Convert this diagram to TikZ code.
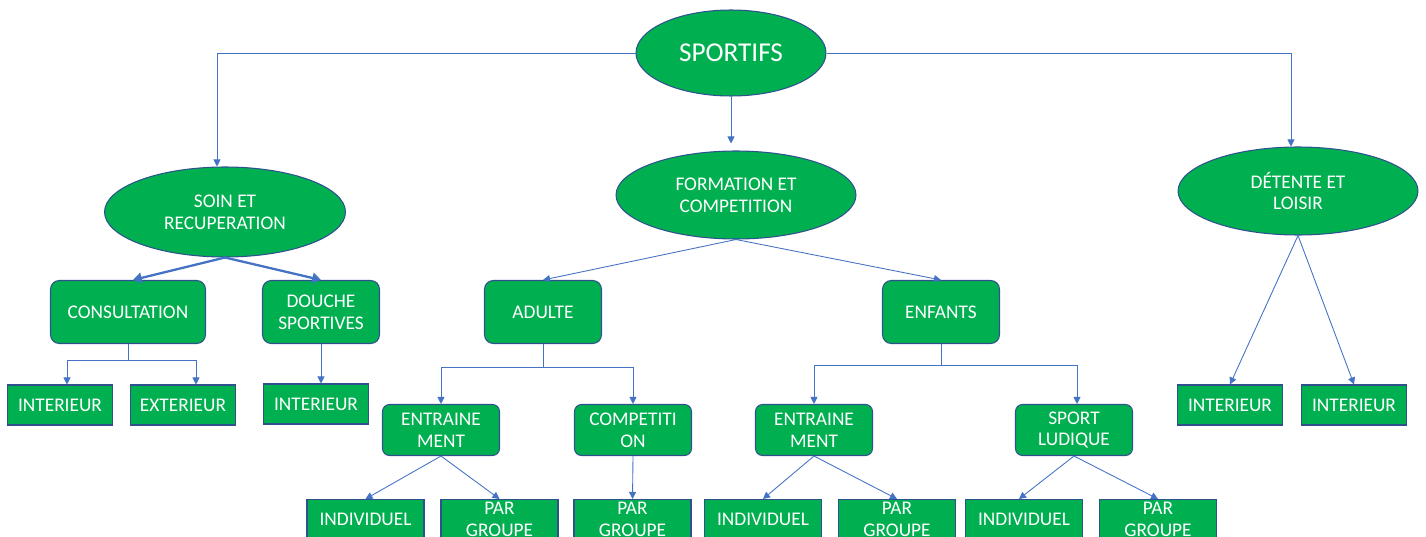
\documentclass[tikz,border=0pt]{standalone}
\usepackage{fontspec}
\setmainfont{Carlito}
\usetikzlibrary{positioning, arrows.meta, shapes.geometric}

\definecolor{boxGreen}{HTML}{00B050}
\definecolor{edgeBlue}{HTML}{2F528F}
\definecolor{lineBlue}{HTML}{4472C4}

\begin{document}
\begin{tikzpicture}[
    x=0.02cm, y=-0.02cm,
    % common look of all boxes
    base/.style={draw=edgeBlue, line width=0.6pt, fill=boxGreen, text=white, align=center, inner sep=2pt, font=\fontsize{11}{12.5}\selectfont},
    oval/.style={base, ellipse, minimum width=4.8cm, minimum height=1.76cm},
    rbox/.style={base, rectangle, rounded corners=5pt, minimum width=2.34cm, minimum height=1.26cm},
    sbox/.style={base, rectangle, rounded corners=4pt, minimum width=2.34cm, minimum height=1.02cm},
    leaf/.style={base, rectangle, minimum width=2.1cm, minimum height=0.8cm},
    leafb/.style={leaf, minimum width=2.34cm, anchor=north, inner ysep=1pt},
    % connectors
    arr/.style={-{Triangle[length=4pt, width=4pt]}, line width=0.5pt, color=lineBlue},
    warr/.style={arr, -{Triangle[length=5pt, width=6pt]}, line width=1.3pt},
]
\useasboundingbox (0,0) rectangle (1426,537);
\clip (0,0) rectangle (1426,537);

% ==================== 1. y levels ====================
\def\yTop{53}
\def\yOne{195}
\def\yTwo{312}
\def\yThree{430}
\def\yLeaf{405}
\def\yBot{499}

% ==================== 2. root and main branches ====================
\node[oval, minimum width=3.8cm, minimum height=1.72cm, font=\fontsize{15.5}{18}\selectfont] (sportifs) at (731,\yTop) {SPORTIFS};
\node[oval, minimum width=4.82cm, minimum height=1.8cm] (soin) at (225,212) {SOIN ET\\RECUPERATION};
\node[oval] (formation) at (736,\yOne) {FORMATION ET\\COMPETITION};
\node[oval] (detente)   at (1298,191)  {DÉTENTE ET\\LOISIR};

% ==================== 3. second level ====================
\node[rbox, minimum width=3.1cm] (consult) at (128,\yTwo) {CONSULTATION};
\node[rbox] (douche)  at (321,\yTwo) {DOUCHE\\SPORTIVES};
\node[rbox] (adulte)  at (543,\yTwo) {ADULTE};
\node[rbox] (enfants) at (941,\yTwo) {ENFANTS};

% ==================== 4. third level ====================
\node[sbox] (a_entr) at (441,\yThree)  {ENTRAINE\\MENT};
\node[sbox] (a_comp) at (633,\yThree)  {COMPETITI\\ON};
\node[sbox] (e_entr) at (814,\yThree)  {ENTRAINE\\MENT};
\node[sbox] (e_ludi) at (1074,\yThree) {SPORT\\LUDIQUE};

% ==================== 5. leaves ====================
\node[leaf] (c_int)  at (60,\yLeaf)   {INTERIEUR};
\node[leaf] (c_ext)  at (183,\yLeaf)  {EXTERIEUR};
\node[leaf] (d_int)  at (316,404)     {INTERIEUR};
\node[leaf] (l_int1) at (1230,\yLeaf) {INTERIEUR};
\node[leaf] (l_int2) at (1354,\yLeaf) {INTERIEUR};

\node[leafb] (a_ind) at (365.5,\yBot) {INDIVIDUEL};
\node[leafb] (a_grp) at (499.5,\yBot) {PAR\\GROUPE};
\node[leafb] (c_grp) at (632.5,\yBot) {PAR\\GROUPE};
\node[leafb] (e_ind) at (763,\yBot)   {INDIVIDUEL};
\node[leafb] (e_grp) at (897,\yBot)   {PAR\\GROUPE};
\node[leafb] (s_ind) at (1024,\yBot)  {INDIVIDUEL};
\node[leafb] (s_grp) at (1158,\yBot)  {PAR\\GROUPE};

% ==================== 6. connectors ====================
% root
\draw[arr] (sportifs.west) -| ([xshift=-0.16cm]soin.north);
\draw[arr] (sportifs.east) -| ([xshift=-0.14cm]detente.north);
\draw[arr, shorten >=4pt] (sportifs.south) -- (sportifs.south |- formation.north);

% soin et recuperation
\draw[warr] (soin.south) -- ([xshift=0.1cm]consult.north);
\draw[warr] (soin.south) -- (douche.north);
\draw[arr] (consult.south) -- ++(0,16) -| ([xshift=0.14cm]c_int.north);
\draw[arr] (consult.south) -- ++(0,16) -| ([xshift=0.26cm]c_ext.north);
\draw[arr] (douche.south) -- (douche.south |- d_int.north);

% formation et competition
\draw[arr] (formation.south) -- (adulte.north);
\draw[arr] (formation.south) -- (enfants.north);
\draw[arr] (adulte.south) -- ++(0,23) -| (a_entr.north);
\draw[arr] (adulte.south) -- ++(0,23) -| (a_comp.north);
\draw[arr] (enfants.south) -- ++(0,21) -| (e_entr.north);
\draw[arr] (enfants.south) -- ++(0,21) -| ([xshift=0.06cm]e_ludi.north);

\draw[arr] (a_entr.south) -- (a_ind.north);
\draw[arr] (a_entr.south) -- (a_grp.north);
\draw[arr] (a_comp.south) -- (c_grp.north);
\draw[arr] (e_entr.south) -- (e_ind.north);
\draw[arr] (e_entr.south) -- (e_grp.north);
\draw[arr] (e_ludi.south) -- ([xshift=-0.1cm]s_ind.north);
\draw[arr] (e_ludi.south) -- (s_grp.north);

% detente et loisir
\draw[arr] (detente.south) -- (l_int1.north);
\draw[arr] (detente.south) -- (l_int2.north);

\end{tikzpicture}
\end{document}
